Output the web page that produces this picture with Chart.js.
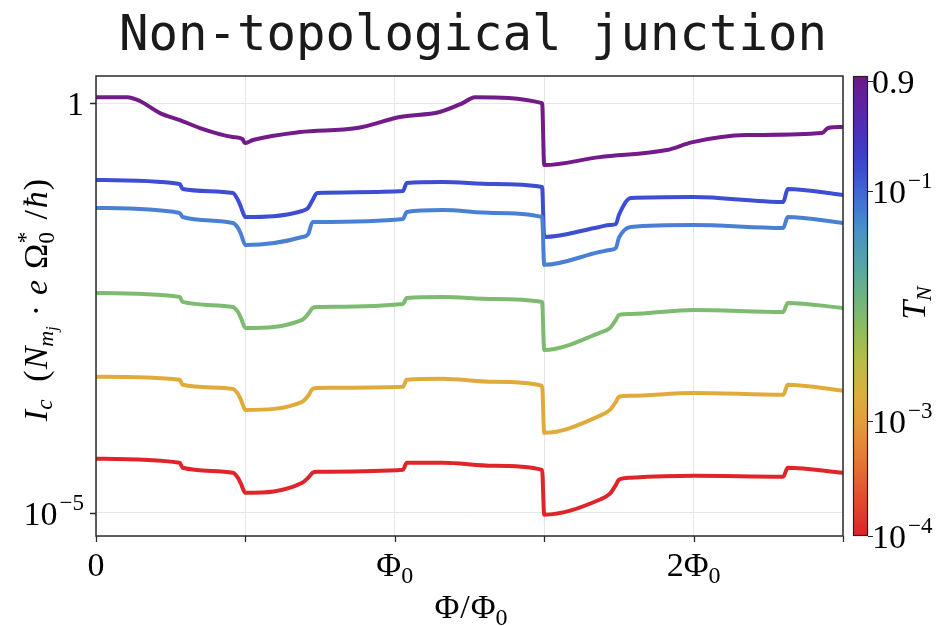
<!DOCTYPE html>
<html>
<head>
<meta charset="utf-8">
<style>
  html, body { margin: 0; padding: 0; background: #fff; }
  #wrap { width: 947px; height: 626px; }
</style>
<script src="https://cdn.jsdelivr.net/npm/chart.js@4.4.1/dist/chart.umd.min.js"></script>
</head>
<body>
<div id="wrap"><canvas id="chart" width="947" height="626"></canvas></div>
<script>
// Flux sample points (units of Phi0) shared by the five lower curves
const phiGrid = [0, 0.28, 0.29, 0.458, 0.475, 0.485, 0.5, 0.69, 0.71, 0.725, 0.74, 1.027, 1.04, 1.16, 1.33,
                 1.493, 1.5, 1.685, 1.72, 1.74, 1.75, 1.79, 2.0, 2.3, 2.315, 2.5];
// The T_N = 0.9 curve has its own sample points
const phiPurple = [0, 0.105, 0.147, 0.214, 0.281, 0.348, 0.458, 0.49, 0.498, 0.525, 0.682, 0.873, 1.017,
                   1.15, 1.227, 1.268, 1.493, 1.5, 1.685, 1.91, 1.997, 2.177, 2.43, 2.45, 2.5];

// Critical current values, one array per T_N
const icT09 = [1.18, 1.18, 1.06, 0.755, 0.62, 0.496, 0.385, 0.364, 0.325, 0.354, 0.443, 0.496, 0.675,
               0.777, 1.0, 1.18, 1.0, 0.175, 0.219, 0.267, 0.334, 0.407, 0.431, 0.496, 0.51];
const icT02 = [0.115, 0.103, 0.0893, 0.0798, 0.0656, 0.0539, 0.0407, 0.0482, 0.0525, 0.0656, 0.0798, 0.0845,
               0.1057, 0.1088, 0.1028, 0.0946, 0.0232, 0.0308, 0.0325, 0.0334, 0.0431, 0.0694, 0.0714, 0.0621,
               0.0893, 0.0755];
const icT01 = [0.0525, 0.0456, 0.0407, 0.0344, 0.0299, 0.0252, 0.0185, 0.0232, 0.0252, 0.0354, 0.0354, 0.0385,
               0.0469, 0.0495, 0.0456, 0.0407, 0.0106, 0.0152, 0.0161, 0.0171, 0.0226, 0.0308, 0.0325, 0.0299,
               0.0407, 0.0344];
const icT1e2 = [4.82e-3, 4.31e-3, 3.74e-3, 3.25e-3, 2.82e-3, 2.39e-3, 1.80e-3, 2.26e-3, 2.67e-3, 3.16e-3, 3.25e-3,
                3.54e-3, 4.19e-3, 4.31e-3, 4.07e-3, 3.74e-3, 9.72e-4, 1.57e-3, 1.80e-3, 2.26e-3, 2.60e-3, 2.67e-3,
                2.99e-3, 2.82e-3, 3.64e-3, 3.16e-3];
const icT1e3 = [4.56e-4, 4.19e-4, 3.64e-4, 3.25e-4, 2.82e-4, 2.39e-4, 1.80e-4, 2.26e-4, 2.67e-4, 3.25e-4, 3.34e-4,
                3.44e-4, 4.19e-4, 4.31e-4, 3.96e-4, 3.54e-4, 9.46e-5, 1.52e-4, 1.80e-4, 2.26e-4, 2.60e-4, 2.67e-4,
                2.90e-4, 2.75e-4, 3.64e-4, 3.08e-4];
const icT1e4 = [4.56e-5, 4.07e-5, 3.54e-5, 3.08e-5, 2.67e-5, 2.26e-5, 1.75e-5, 2.32e-5, 2.67e-5, 3.08e-5, 3.16e-5,
                3.34e-5, 4.07e-5, 4.07e-5, 3.74e-5, 3.34e-5, 9.46e-6, 1.44e-5, 1.71e-5, 2.19e-5, 2.52e-5, 2.67e-5,
                2.82e-5, 2.75e-5, 3.54e-5, 3.08e-5];

// Axis ticks
const xTicks = [0, 0.5, 1, 1.5, 2, 2.5];
const xLabelValues = [0, 1, 2];
const xLabelTexts = [['0', ''], ['Φ', '0'], ['2Φ', '0']];
const yTicks = [1e-5, 1];
const yLabelTexts = [['10', '−5'], ['1', '']];
const cbTicks = [0.9, 1e-1, 1e-3, 1e-4];
const cbLabelTexts = [['0.9', ''], ['10', '−1'], ['10', '−3'], ['10', '−4']];

// Colours
const lineColors = ['#731b89', '#3d4ed2', '#4a80d3', '#7dbb70', '#e1ab3c', '#e0252a'];
const cbStops = [
    [0.00, '#6e1886'], [0.11, '#4f2db5'], [0.18, '#3c42cc'], [0.25, '#3f66d4'], [0.33, '#4790c9'],
    [0.40, '#52a3ac'], [0.47, '#69b386'], [0.55, '#8dbd5c'], [0.62, '#b7bc48'], [0.69, '#dcb03d'],
    [0.76, '#e39a3a'], [0.83, '#e67a35'], [0.91, '#e3502f'], [1.00, '#dd2326']
];

const SERIF = '"Liberation Serif", "Times New Roman", serif';

function font(p, base) {
    return (p.it ? 'italic ' : '') + (p.s || base) + 'px ' + SERIF;
}

// Draw a run of text parts (sub/superscripts via size + dy); returns width
function drawRich(ctx, parts, x, y, align, base) {
    const pos = [];
    let w = 0, prevStart = 0, prevW = 0;
    parts.forEach(p => {
        ctx.font = font(p, base);
        const pw = ctx.measureText(p.t).width;
        if (p.stack) {
            pos.push(prevStart);
            w += Math.max(0, pw - prevW);
            prevW = Math.max(prevW, pw);
        } else {
            const dx = p.dx || 0;
            pos.push(w + dx);
            prevStart = w + dx;
            prevW = pw;
            w += pw + dx;
        }
    });
    const x0 = align === 'right' ? x - w : align === 'center' ? x - w / 2 : x;
    parts.forEach((p, i) => {
        ctx.font = font(p, base);
        ctx.fillText(p.t, x0 + pos[i], y + (p.dy || 0));
    });
    return w;
}

function tickParts(pair, kind) {
    const parts = [{ t: pair[0] }];
    if (pair[1]) {
        if (kind === 'sub') parts.push({ t: pair[1], s: 24, dy: 7 });
        else parts.push({ t: pair[1], s: 23, dy: -15, dx: 2 });
    }
    return parts;
}

const cbMin = 1e-4, cbMax = 1;

const decor = {
    id: 'decor',
    afterDraw(chart) {
        const ctx = chart.ctx;
        const a = chart.chartArea;
        const xs = chart.scales.x, ys = chart.scales.y;
        ctx.save();

        // title
        ctx.font = '49px "DejaVu Sans Mono", monospace';
        ctx.textAlign = 'center';
        ctx.textBaseline = 'alphabetic';
        ctx.fillStyle = '#1a1a1a';
        ctx.fillText('Non-topological junction', 473, 50);
        ctx.textAlign = 'left';

        // frame
        ctx.lineWidth = 1.5;
        ctx.strokeStyle = '#2a2a2a';
        ctx.strokeRect(a.left, a.top, a.right - a.left, a.bottom - a.top);

        // tick marks
        ctx.lineWidth = 1.3;
        ctx.beginPath();
        xTicks.forEach(v => {
            const px = Math.round(xs.getPixelForValue(v)) + 0.5;
            ctx.moveTo(px, a.bottom); ctx.lineTo(px, a.bottom + 6);
        });
        yTicks.forEach(v => {
            const py = Math.round(ys.getPixelForValue(v)) + 0.5;
            ctx.moveTo(a.left - 6, py); ctx.lineTo(a.left, py);
        });
        ctx.stroke();

        ctx.fillStyle = '#000';
        // x tick labels
        xLabelValues.forEach((v, i) => {
            drawRich(ctx, tickParts(xLabelTexts[i], 'sub'), xs.getPixelForValue(v), 576, 'center', 34);
        });
        // y tick labels
        yTicks.forEach((v, i) => {
            const py = ys.getPixelForValue(v);
            drawRich(ctx, tickParts(yLabelTexts[i], 'sup'), a.left - 12, py + 12, 'right', 34);
        });

        // x axis title
        drawRich(ctx, [{ t: 'Φ' }, { t: '/', dx: 1 }, { t: 'Φ', dx: 1 }, { t: '0', s: 24, dy: 7 }], 471, 618, 'center', 34);

        // y axis title (rotated)
        ctx.save();
        ctx.translate(47, 300);
        ctx.rotate(-Math.PI / 2);
        drawRich(ctx, [
            { t: 'I', it: 1 }, { t: 'c', it: 1, s: 23, dy: 5 },
            { t: '(', dx: 18 },
            { t: 'N', it: 1, dx: 1 }, { t: 'm', it: 1, s: 22, dy: 6 }, { t: 'j', it: 1, s: 16, dy: 10 },
            { t: '·', dx: 10 },
            { t: 'e', it: 1, dx: 10 },
            { t: 'Ω', dx: 11 }, { t: '0', s: 23, dy: 7 }, { t: '*', s: 24, dy: -14, stack: 1 },
            { t: '/', dx: 12 }, { t: 'ħ', it: 1, dx: 2 }, { t: ')', dx: 1 }
        ], 0, 0, 'center', 34);
        ctx.restore();

        // colorbar
        const cbL = 853, cbR = 868, cbT = a.top, cbB = a.bottom;
        const grad = ctx.createLinearGradient(0, cbT, 0, cbB);
        cbStops.forEach(s => grad.addColorStop(s[0], s[1]));
        ctx.fillStyle = grad;
        ctx.fillRect(cbL, cbT, cbR - cbL, cbB - cbT);
        ctx.lineWidth = 1.2;
        ctx.strokeStyle = '#222';
        ctx.strokeRect(cbL + 0.5, cbT + 0.5, cbR - cbL - 1, cbB - cbT - 1);
        const lmin = Math.log10(cbMin), lmax = Math.log10(cbMax);
        ctx.fillStyle = '#000';
        ctx.beginPath();
        cbTicks.forEach((v, i) => {
            const py = cbB - (Math.log10(v) - lmin) / (lmax - lmin) * (cbB - cbT);
            ctx.moveTo(cbR, Math.round(py) + 0.5); ctx.lineTo(cbR + 5, Math.round(py) + 0.5);
            drawRich(ctx, tickParts(cbLabelTexts[i], 'sup'), cbR + 4, py + 12, 'left', 34);
        });
        ctx.stroke();

        // colorbar label T_N (rotated)
        ctx.save();
        ctx.translate(925, 303);
        ctx.rotate(-Math.PI / 2);
        drawRich(ctx, [{ t: 'T', it: 1 }, { t: 'N', it: 1, s: 22, dy: 6 }], 0, 0, 'center', 34);
        ctx.restore();

        ctx.restore();
    }
};

function series(xs, ys, color) {
    return {
        data: xs.map((x, i) => ({ x: x, y: ys[i] })),
        borderColor: color,
        borderWidth: 4,
        pointRadius: 0,
        cubicInterpolationMode: 'monotone',
        borderJoinStyle: 'round',
        borderCapStyle: 'round',
        fill: false
    };
}

new Chart(document.getElementById('chart'), {
    type: 'line',
    data: {
        datasets: [
            series(phiGrid, icT1e4, lineColors[5]),
            series(phiGrid, icT1e3, lineColors[4]),
            series(phiGrid, icT1e2, lineColors[3]),
            series(phiGrid, icT01, lineColors[2]),
            series(phiGrid, icT02, lineColors[1]),
            series(phiPurple, icT09, lineColors[0])
        ]
    },
    options: {
        responsive: false,
        animation: false,
        devicePixelRatio: 1,
        layout: { autoPadding: false, padding: { left: 96, right: 104, top: 76, bottom: 90 } },
        plugins: { legend: { display: false }, tooltip: { enabled: false }, title: { display: false } },
        scales: {
            x: {
                type: 'linear', min: 0, max: 2.5,
                ticks: { display: false },
                grid: { color: '#e6e6e6', lineWidth: 1, drawTicks: false },
                border: { display: false },
                afterBuildTicks: s => { s.ticks = xTicks.map(v => ({ value: v })); },
                afterFit: s => { s.height = 0; }
            },
            y: {
                type: 'logarithmic', min: 5.2e-6, max: 2.14,
                ticks: { display: false },
                grid: { color: '#e6e6e6', lineWidth: 1, drawTicks: false },
                border: { display: false },
                afterBuildTicks: s => { s.ticks = yTicks.map(v => ({ value: v })); },
                afterFit: s => { s.width = 0; }
            }
        }
    },
    plugins: [decor]
});
</script>
</body>
</html>
